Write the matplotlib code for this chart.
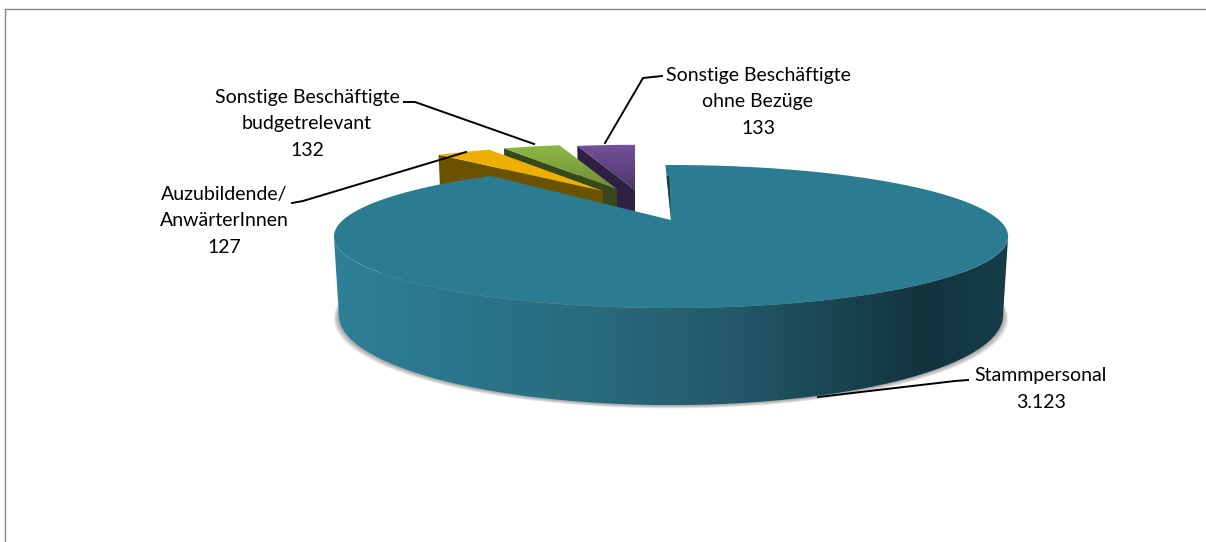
import numpy as np
import matplotlib
matplotlib.use('Agg')
import matplotlib.pyplot as plt
from matplotlib.colors import LinearSegmentedColormap
from matplotlib.patches import Polygon

plt.rcParams['font.family'] = ['Lato', 'DejaVu Sans']

# pie data, clockwise from 12 o'clock
categories = ['Stammpersonal', 'Auzubildende/\nAnwärterInnen',
              'Sonstige Beschäftigte\nbudgetrelevant', 'Sonstige Beschäftigte\nohne Bezüge']
values = [3123, 127, 132, 133]

W, H = 1206, 542
fig = plt.figure(figsize=(W / 100, H / 100), dpi=100)
ax = fig.add_axes([0, 0, 1, 1])
ax.axis('off')

# perspective of the pie plane
CX, CY = 671, 220
SX, SY = 328, 67.7
K = -0.231
DEPTH = 74.6
BOTTOM_SHRINK = 0.985


def project(u, v, low=False, off=(0, 0)):
    # off = sideways shift in pixels, pull-out along the plane depth
    v = v + off[1]
    d = 1 + K * v
    x = CX + SX * u / d
    y = CY + SY * v / d
    if low:
        x = CX + (x - CX) * BOTTOM_SHRINK
        y = y + DEPTH / d
    return x + off[0], y


def rim(t1, t2, off=(0, 0), low=False, n=240):
    t = np.radians(np.linspace(t1, t2, n))
    return project(np.sin(t), -np.cos(t), low, off)


def rim_point(t, off=(0, 0), low=False):
    t = np.radians(t)
    return project(np.sin(t), -np.cos(t), low, off)


def wedge_top(t1, t2, off=(0, 0)):
    x, y = rim(t1, t2, off)
    tx, ty = project(0, 0, False, off)
    return np.column_stack([np.r_[tx, x], np.r_[ty, y]])


def gradient_fill(pts, stops, horizontal=True, zorder=2):
    # gradient image clipped to the polygon
    cmap = LinearSegmentedColormap.from_list('g', stops)
    x0, x1 = pts[:, 0].min(), pts[:, 0].max()
    y0, y1 = pts[:, 1].min(), pts[:, 1].max()
    g = np.linspace(0, 1, 256)
    g = g.reshape(1, -1) if horizontal else g.reshape(-1, 1)
    im = ax.imshow(g, cmap=cmap, extent=(x0, x1, y1, y0), aspect='auto',
                   zorder=zorder, interpolation='bilinear')
    p = Polygon(pts, closed=True, transform=ax.transData, fc='none', ec='none')
    ax.add_patch(p)
    im.set_clip_path(p)


def soft_shadow(pts, cx, zorder, steps=7, grow=0.0022, drop=0.5):
    for i in range(steps, 0, -1):
        s = pts.copy()
        s[:, 0] = cx + (s[:, 0] - cx) * (1 + grow * i)
        s[:, 1] = s[:, 1] + drop * i
        ax.add_patch(Polygon(s, closed=True, fc='#505050', ec='none',
                             alpha=0.09, zorder=zorder))


angles = np.cumsum([0] + values) / sum(values) * 360

# pull-out of the small slices
offsets = [(0, 0), (-68, -0.475), (-54, -0.51), (-36, -0.494)]
top_colors = ['#2b7c91', '#eeb000', None, None]
side_colors = [None, '#6b5200', '#37481a', '#2e2044']
top_stops = [None, None, ['#8fb846', '#6e8e36'], ['#75529c', '#4d3468']]

# small slices, back to front
for i in [3, 2, 1]:
    t1, t2 = angles[i], angles[i + 1]
    off = offsets[i]
    tipx, tipy = project(0, 0, False, off)
    lowx, lowy = project(0, 0, True, off)
    bx, by = rim(t1, t2, off, low=True)
    soft_shadow(np.column_stack([np.r_[lowx, bx], np.r_[lowy, by]]), tipx, 1, steps=4, grow=0.012, drop=0.4)
    # radial side face
    x1, y1 = rim_point(t1, off)
    x2, y2 = rim_point(t1, off, low=True)
    face = np.array([[x1, y1], [tipx, tipy], [lowx, lowy], [x2, y2]])
    ax.add_patch(Polygon(face, closed=True, fc=side_colors[i], ec='none', zorder=2 + 3 - i))
    top = wedge_top(t1, t2, off)
    if top_stops[i] is None:
        ax.add_patch(Polygon(top, closed=True, fc=top_colors[i], ec='none', zorder=2.5 + 3 - i))
    else:
        gradient_fill(top, top_stops[i], horizontal=False, zorder=2.5 + 3 - i)

# main slice: shadow, outer wall, top face
t1, t2 = angles[0], angles[1]
# the wall runs between the two outermost points of the rim
sweep = np.linspace(0, 360, 1441)
sweep_x, _ = project(np.sin(np.radians(sweep)), -np.cos(np.radians(sweep)))
t_right, t_left = sweep[np.argmax(sweep_x)], sweep[np.argmin(sweep_x)]
bx, by = rim(t_right, t_left, low=True)
fx, fy = rim(t_right, t_left)
wall = np.column_stack([np.r_[fx, bx[::-1]], np.r_[fy, by[::-1]]])
soft_shadow(np.column_stack(rim(0, 360, low=True)), CX, 6)
wall_stops = [(0.0, '#2d8098'), (0.15, '#2a788f'), (0.39, '#296a7b'), (0.59, '#23596a'),
              (0.73, '#1a4753'), (0.88, '#12333e'), (1.0, '#163d49')]
gradient_fill(wall, wall_stops, horizontal=True, zorder=7)
ax.add_patch(Polygon(wedge_top(t1 - 1.2, t2), closed=True, fc=top_colors[0], ec='none', zorder=8))

# thin inner face at the opening
sx1, sy1 = project(0.76 * np.sin(np.radians(-1.2)), -0.76 * np.cos(np.radians(-1.2)))
sx2, sy2 = project(0.76 * np.sin(np.radians(-0.5)), -0.76 * np.cos(np.radians(-0.5)))
ax.add_patch(Polygon([[CX, CY], [sx1, sy1], [sx2, sy2]], closed=True, fc='#153c48', ec='none', zorder=9))

# leader lines
leaders = {
    0: [(968, 380), (955, 381), (818, 397)],
    1: [(292, 203), (303, 201), (466, 152)],
    2: [(404, 102), (415, 102), (534, 144)],
    3: [(662, 76), (643, 78), (605, 143)],
}
for k, pts in leaders.items():
    xs, ys = zip(*pts)
    ax.plot(xs, ys, color='black', lw=1.4, solid_joinstyle='miter', zorder=10)

# labels
label_pos = {0: (1041, 389), 1: (224, 221), 2: (307, 124), 3: (758, 102)}
for i, (cat, val) in enumerate(zip(categories, values)):
    txt = cat + '\n' + f'{val:,}'.replace(',', '.')
    ax.text(label_pos[i][0], label_pos[i][1], txt, ha='center', va='center',
            fontsize=14, color='black', linespacing=1.67, zorder=11)

# chart frame, open to the right and at the bottom
ax.plot([4.5, 4.5, W], [H, 8.5, 8.5], color='#868686', lw=1.0, zorder=12)

ax.set_xlim(0, W)
ax.set_ylim(H, 0)
fig.savefig('out.png', dpi=100, facecolor='white')
